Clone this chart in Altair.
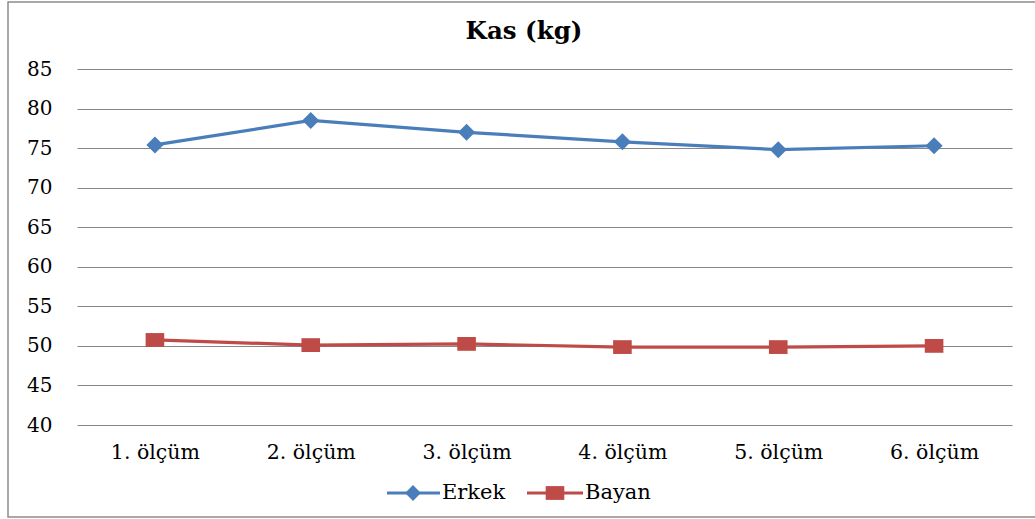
import altair as alt
import pandas as pd

# Measurement sessions and mean muscle mass (kg) per group
olcum = ["1. ölçüm", "2. ölçüm", "3. ölçüm", "4. ölçüm", "5. ölçüm", "6. ölçüm"]
erkek = [75.4, 78.5, 77.0, 75.8, 74.8, 75.3]
bayan = [50.75, 50.1, 50.25, 49.85, 49.85, 50.0]

series = ["Erkek", "Bayan"]
colors = ["#4A7EBB", "#BE4B48"]
y_ticks = [40, 45, 50, 55, 60, 65, 70, 75, 80, 85]

FONT = "DejaVu Serif"
W, H = 935, 356

df = pd.DataFrame(
    {"olcum": olcum * 2, "kas": erkek + bayan, "grup": ["Erkek"] * 6 + ["Bayan"] * 6}
)

x_enc = alt.X(
    "olcum:N",
    sort=olcum,
    scale=alt.Scale(padding=0.5),
    axis=alt.Axis(
        title=None, labelAngle=0, ticks=False, domain=False, grid=False,
        labelFont=FONT, labelFontSize=20.5, labelColor="#000000", labelPadding=17,
    ),
)
y_enc = alt.Y(
    "kas:Q",
    scale=alt.Scale(domain=[40, 85], nice=False, zero=False),
    axis=alt.Axis(
        title=None, values=y_ticks, ticks=False, domain=False,
        grid=True, gridColor="#868686", gridWidth=1.2,
        labelFont=FONT, labelFontSize=20, labelColor="#000000", labelPadding=25,
    ),
)
color_enc = alt.Color(
    "grup:N", scale=alt.Scale(domain=series, range=colors), legend=None
)

lines = alt.Chart(df).mark_line(strokeWidth=3.2).encode(
    x=x_enc, y=y_enc, color=color_enc, detail="grup:N"
)

# Excel-like rectangle marker (slightly wider than tall)
rect_path = "M-1.35,-1L1.35,-1L1.35,1L-1.35,1Z"

erkek_pts = alt.Chart(df[df.grup == "Erkek"]).mark_point(
    shape="diamond", filled=True, size=290, opacity=1
).encode(x=x_enc, y=y_enc, color=color_enc)

bayan_pts = alt.Chart(df[df.grup == "Bayan"]).mark_point(
    shape=rect_path, filled=True, size=190, opacity=1
).encode(x=x_enc, y=y_enc, color=color_enc)

# Title
title = alt.Chart(pd.DataFrame({"t": ["Kas (kg)"]})).mark_text(
    font=FONT, fontSize=24.5, fontWeight="bold", color="#000000",
    align="center", baseline="middle",
).encode(text="t:N", x=alt.value(447), y=alt.value(-37))

# Legend beneath the plot
leg_y = 424
leg = pd.DataFrame({"grup": series})


def legend_item(name, color, x0, x1, xm, xt, shape, size):
    d = leg[leg.grup == name]
    rule = alt.Chart(d).mark_rule(color=color, strokeWidth=3.2).encode(
        x=alt.value(x0), x2=alt.value(x1), y=alt.value(leg_y)
    )
    sym = alt.Chart(d).mark_point(
        shape=shape, filled=True, size=size, opacity=1, color=color
    ).encode(x=alt.value(xm), y=alt.value(leg_y))
    txt = alt.Chart(d).mark_text(
        font=FONT, fontSize=21, color="#000000", align="left", baseline="middle"
    ).encode(text="grup:N", x=alt.value(xt), y=alt.value(leg_y))
    return rule + sym + txt


leg_erkek = legend_item("Erkek", colors[0], 310, 363, 336, 365, "diamond", 250)
leg_bayan = legend_item("Bayan", colors[1], 450, 506, 478, 508, rect_path, 190)

# Outer frame around the whole figure
frame = alt.Chart(pd.DataFrame({"f": [0]})).mark_rect(
    fill=None, stroke="#8C8C8C", strokeWidth=1.5
).encode(
    x=alt.value(-69), x2=alt.value(975), y=alt.value(-67), y2=alt.value(448)
)

chart = (
    alt.layer(frame, lines, erkek_pts, bayan_pts, title, leg_erkek, leg_bayan)
    .properties(
        width=W,
        height=H,
        autosize=alt.AutoSizeParams(type="none"),
        padding={"left": 77, "top": 69, "right": 23, "bottom": 94},
        background="#FFFFFF",
    )
    .configure_view(stroke=None)
)

chart.save("out.html", embed_options={"renderer": "svg", "actions": False})
